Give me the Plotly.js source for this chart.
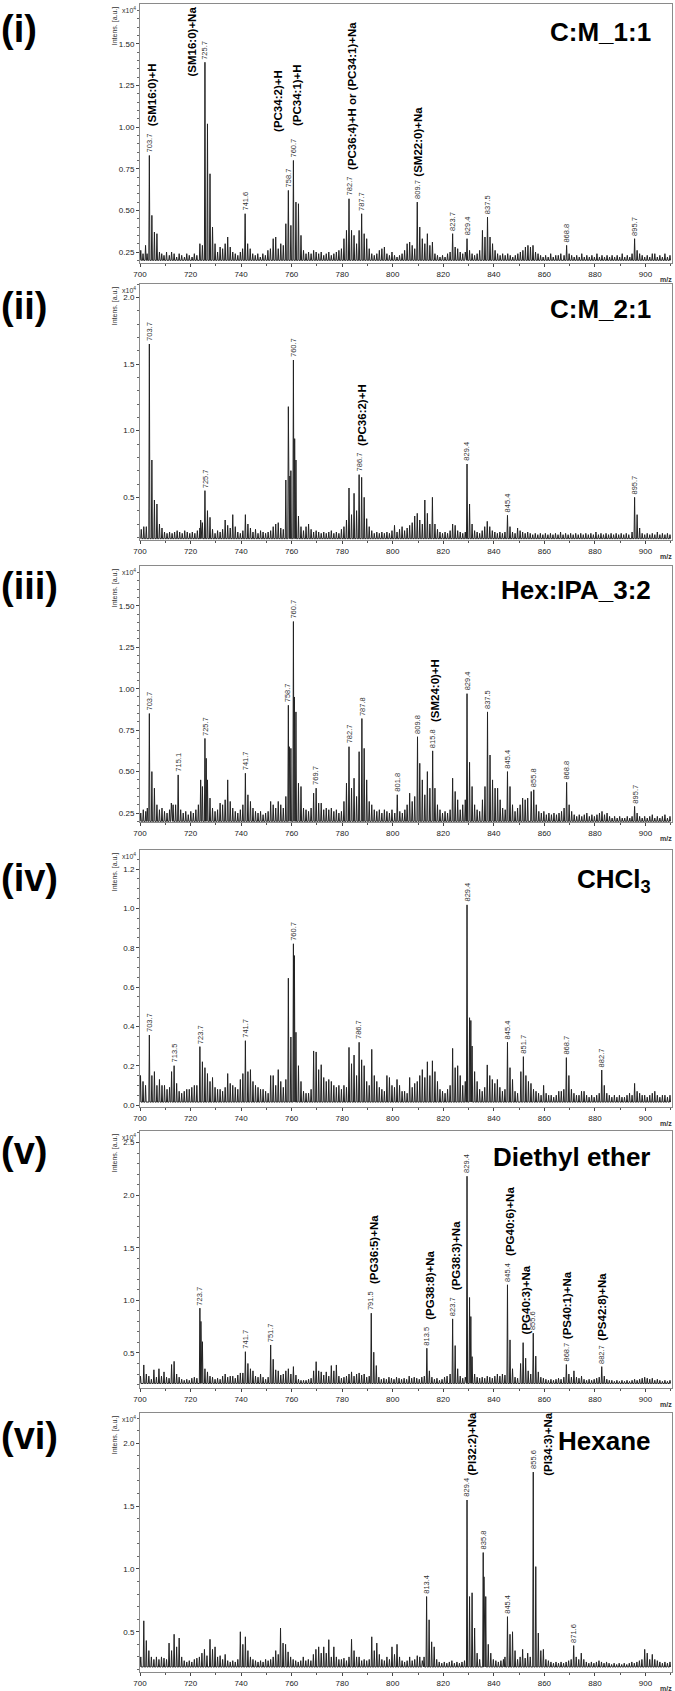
<!DOCTYPE html>
<html><head><meta charset="utf-8">
<script src="https://cdn.plot.ly/plotly-3.0.1.min.js"></script>
<style>html,body{margin:0;padding:0;background:#fff}</style>
</head><body>
<div id="chart" style="width:675px;height:1691px"></div>
<script>
// ---------- DATA (intensities in units of 10^4, m/z) ----------
const mzRange = [700, 910.5];

const base_i = 0.20;
const peaks_i = [[700.3,0.26],[701.2,0.24],[702.2,0.29],[702.8,0.24],[703.7,0.83],[704.7,0.47],[705.7,0.37],[706.7,0.36],[707.7,0.25],[708.6,0.24],[709.5,0.23],[710.5,0.25],[711.6,0.23],[712.5,0.25],[713.5,0.24],[714.5,0.22],[715.5,0.24],[716.5,0.23],[717.6,0.22],[718.5,0.24],[719.5,0.23],[720.6,0.22],[721.5,0.24],[722.5,0.23],[723.7,0.30],[724.7,0.29],[725.7,1.39],[726.7,1.02],[727.7,0.72],[728.7,0.40],[729.7,0.30],[730.7,0.25],[731.7,0.28],[732.7,0.27],[733.7,0.30],[734.7,0.34],[735.7,0.28],[736.7,0.25],[737.7,0.24],[738.7,0.23],[739.7,0.25],[740.6,0.27],[741.6,0.48],[742.6,0.30],[743.6,0.27],[744.6,0.24],[745.6,0.23],[746.6,0.24],[747.6,0.22],[748.6,0.24],[749.6,0.23],[750.6,0.26],[751.6,0.27],[752.7,0.33],[753.7,0.34],[754.7,0.27],[755.7,0.30],[756.7,0.29],[757.7,0.42],[758.7,0.62],[759.7,0.41],[760.7,0.80],[761.7,0.55],[762.7,0.54],[763.7,0.35],[764.7,0.26],[765.7,0.24],[766.7,0.25],[767.7,0.24],[768.7,0.26],[769.7,0.25],[770.7,0.24],[771.7,0.25],[772.7,0.23],[773.7,0.24],[774.7,0.25],[775.7,0.23],[776.7,0.24],[777.7,0.25],[778.7,0.26],[779.7,0.27],[780.7,0.33],[781.7,0.38],[782.7,0.57],[783.7,0.38],[784.7,0.35],[785.7,0.30],[786.7,0.38],[787.7,0.48],[788.7,0.36],[789.7,0.33],[790.7,0.27],[791.7,0.24],[792.7,0.23],[793.7,0.24],[794.7,0.26],[795.7,0.27],[796.7,0.28],[797.7,0.24],[798.7,0.23],[799.7,0.25],[800.7,0.23],[801.7,0.22],[802.7,0.23],[803.7,0.24],[804.7,0.26],[805.7,0.30],[806.7,0.31],[807.7,0.29],[808.7,0.27],[809.7,0.55],[810.7,0.40],[811.7,0.33],[812.7,0.30],[813.7,0.36],[814.7,0.29],[815.7,0.31],[816.7,0.24],[817.7,0.23],[818.7,0.22],[819.7,0.23],[820.7,0.22],[821.7,0.24],[822.7,0.25],[823.7,0.36],[824.7,0.28],[825.7,0.27],[826.7,0.25],[827.7,0.24],[828.7,0.25],[829.4,0.33],[830.4,0.26],[831.4,0.24],[832.4,0.23],[833.4,0.24],[834.4,0.26],[835.5,0.38],[836.5,0.34],[837.5,0.46],[838.5,0.34],[839.5,0.30],[840.5,0.26],[841.5,0.24],[842.5,0.23],[843.5,0.24],[844.5,0.23],[845.5,0.24],[846.5,0.23],[847.5,0.22],[848.5,0.23],[849.5,0.24],[850.5,0.25],[851.5,0.26],[852.5,0.28],[853.5,0.29],[854.5,0.28],[855.5,0.29],[856.5,0.25],[857.5,0.24],[858.5,0.23],[859.5,0.22],[860.5,0.23],[861.5,0.22],[862.5,0.24],[863.5,0.22],[864.5,0.23],[865.5,0.23],[866.5,0.24],[867.8,0.23],[868.8,0.29],[869.8,0.24],[870.8,0.23],[871.8,0.22],[872.8,0.23],[873.8,0.22],[874.8,0.24],[875.8,0.22],[876.8,0.23],[877.8,0.22],[878.8,0.23],[879.8,0.22],[880.8,0.24],[881.8,0.22],[882.8,0.23],[883.8,0.22],[884.8,0.23],[885.8,0.22],[886.8,0.23],[887.8,0.22],[888.8,0.23],[889.8,0.22],[890.8,0.24],[891.8,0.22],[892.8,0.23],[893.8,0.22],[894.7,0.24],[895.7,0.33],[896.7,0.26],[897.7,0.24],[898.7,0.23],[899.7,0.22],[900.7,0.23],[901.7,0.22],[902.7,0.24],[903.7,0.24],[904.7,0.22],[905.7,0.23],[906.7,0.22],[907.7,0.24],[908.7,0.22],[909.7,0.23]];
const labels_i = [703.7,725.7,741.6,758.7,760.7,782.7,787.7,809.7,823.7,829.4,837.5,868.8,895.7];
const lipids_i = [["(SM16:0)+H",703.7],["(SM16:0)+Na",725.7],["(PC34:2)+H",758.7],["(PC34:1)+H",760.7],["(PC36:4)+H or (PC34:1)+Na",782.7],["(SM22:0)+Na",809.7]];

const base_ii = 0.19;
const peaks_ii = [[700.5,0.26],[701.5,0.28],[702.5,0.28],[703.7,1.65],[704.7,0.78],[705.7,0.48],[706.7,0.45],[707.7,0.30],[708.7,0.27],[709.7,0.24],[710.7,0.23],[711.7,0.24],[712.7,0.23],[713.7,0.24],[714.7,0.25],[715.7,0.24],[716.7,0.23],[717.7,0.25],[718.7,0.24],[719.7,0.23],[720.7,0.24],[721.7,0.23],[722.7,0.25],[723.7,0.27],[724.0,0.33],[724.7,0.31],[725.7,0.55],[726.7,0.40],[727.7,0.35],[728.7,0.26],[729.7,0.23],[730.7,0.25],[731.7,0.24],[732.7,0.26],[733.7,0.33],[734.7,0.29],[735.7,0.27],[736.7,0.37],[737.7,0.28],[738.7,0.24],[739.7,0.23],[740.7,0.25],[741.7,0.37],[742.7,0.30],[743.7,0.27],[744.7,0.24],[745.7,0.26],[746.7,0.23],[747.7,0.25],[748.7,0.24],[749.7,0.23],[750.7,0.24],[751.7,0.25],[752.7,0.28],[753.7,0.30],[754.7,0.31],[755.7,0.27],[756.7,0.26],[757.7,0.63],[758.7,1.18],[759.3,0.66],[759.7,0.70],[760.7,1.53],[761.2,0.94],[761.7,0.78],[762.7,0.36],[763.7,0.28],[764.7,0.25],[765.7,0.28],[766.7,0.30],[767.7,0.26],[768.7,0.24],[769.7,0.25],[770.7,0.24],[771.7,0.23],[772.7,0.24],[773.7,0.23],[774.7,0.24],[775.7,0.25],[776.7,0.23],[777.7,0.24],[778.7,0.23],[779.7,0.26],[780.7,0.28],[781.7,0.33],[782.7,0.57],[783.7,0.37],[784.7,0.53],[785.7,0.40],[786.7,0.67],[787.7,0.65],[788.7,0.50],[789.7,0.34],[790.7,0.28],[791.7,0.25],[792.7,0.23],[793.7,0.24],[794.7,0.23],[795.7,0.24],[796.7,0.23],[797.7,0.24],[798.7,0.23],[799.7,0.25],[800.7,0.29],[801.7,0.24],[802.7,0.26],[803.7,0.28],[804.7,0.25],[805.7,0.27],[806.7,0.29],[807.7,0.31],[808.7,0.36],[809.7,0.38],[810.7,0.33],[811.7,0.30],[812.7,0.48],[813.7,0.38],[814.7,0.30],[815.7,0.50],[816.7,0.30],[817.7,0.26],[818.7,0.24],[819.7,0.23],[820.7,0.24],[821.7,0.23],[822.7,0.25],[823.7,0.30],[824.7,0.29],[825.7,0.25],[826.7,0.24],[827.7,0.23],[828.7,0.24],[829.4,0.75],[830.4,0.45],[831.4,0.30],[832.4,0.25],[833.4,0.24],[834.4,0.23],[835.4,0.25],[836.4,0.28],[837.4,0.32],[838.4,0.28],[839.4,0.25],[840.4,0.24],[841.4,0.23],[842.4,0.24],[843.4,0.23],[844.4,0.24],[845.4,0.365],[846.4,0.28],[847.4,0.24],[848.4,0.23],[849.4,0.27],[850.4,0.25],[851.4,0.24],[852.4,0.23],[853.4,0.24],[854.4,0.23],[855.4,0.22],[856.4,0.23],[857.4,0.22],[858.4,0.23],[859.4,0.22],[860.4,0.23],[861.4,0.22],[862.4,0.23],[863.4,0.22],[864.4,0.23],[865.4,0.22],[866.4,0.24],[867.4,0.22],[868.4,0.23],[869.4,0.22],[870.4,0.23],[871.4,0.22],[872.4,0.23],[873.4,0.22],[874.4,0.23],[875.4,0.22],[876.4,0.23],[877.4,0.22],[878.4,0.23],[879.4,0.22],[880.4,0.24],[881.4,0.22],[882.4,0.23],[883.4,0.22],[884.4,0.23],[885.4,0.22],[886.4,0.23],[887.4,0.22],[888.4,0.23],[889.4,0.22],[890.4,0.23],[891.4,0.22],[892.4,0.23],[893.4,0.22],[894.7,0.24],[895.7,0.50],[896.7,0.37],[897.7,0.27],[898.7,0.23],[899.7,0.22],[900.7,0.23],[901.7,0.22],[902.7,0.23],[903.7,0.22],[904.7,0.24],[905.7,0.22],[906.7,0.23],[907.7,0.22],[908.7,0.23],[909.7,0.22]];
const labels_ii = [703.7,725.7,760.7,786.7,829.4,845.4,895.7];
const lipids_ii = [["(PC36:2)+H",786.7]];

const base_iii = 0.20;
const peaks_iii = [[700.3,0.25],[701.3,0.27],[702.3,0.26],[702.9,0.28],[703.7,0.85],[704.7,0.50],[705.7,0.40],[706.7,0.30],[707.7,0.27],[708.7,0.28],[709.7,0.26],[710.7,0.25],[711.7,0.27],[712.4,0.31],[713.1,0.30],[714.1,0.30],[715.1,0.48],[716.1,0.27],[717.1,0.25],[718.1,0.26],[719.1,0.24],[720.1,0.26],[721.1,0.25],[722.1,0.27],[723.1,0.30],[724.0,0.45],[724.7,0.41],[725.7,0.70],[726.2,0.58],[726.7,0.45],[727.7,0.34],[728.7,0.28],[729.7,0.26],[730.7,0.27],[731.7,0.31],[732.7,0.30],[733.7,0.33],[734.7,0.45],[735.7,0.32],[736.7,0.28],[737.7,0.26],[738.7,0.25],[739.7,0.27],[740.7,0.30],[741.7,0.49],[742.7,0.36],[743.7,0.32],[744.7,0.28],[745.7,0.26],[746.7,0.25],[747.7,0.26],[748.7,0.24],[749.7,0.25],[750.7,0.26],[751.7,0.32],[752.7,0.30],[753.7,0.28],[754.7,0.32],[755.7,0.30],[756.7,0.28],[757.7,0.35],[758.7,0.90],[759.1,0.65],[759.7,0.64],[760.7,1.405],[761.1,0.95],[761.7,0.86],[762.7,0.43],[763.7,0.41],[764.7,0.28],[765.7,0.27],[766.7,0.26],[767.7,0.28],[768.7,0.37],[769.7,0.40],[770.7,0.31],[771.7,0.31],[772.7,0.27],[773.7,0.28],[774.7,0.27],[775.7,0.28],[776.7,0.26],[777.7,0.27],[778.7,0.25],[779.7,0.26],[780.7,0.32],[781.7,0.43],[782.7,0.65],[783.7,0.40],[784.7,0.46],[785.7,0.35],[786.7,0.62],[787.8,0.82],[788.7,0.64],[789.7,0.45],[790.7,0.32],[791.7,0.30],[792.7,0.27],[793.7,0.26],[794.7,0.27],[795.7,0.25],[796.7,0.27],[797.7,0.26],[798.7,0.25],[799.7,0.27],[800.8,0.25],[801.8,0.36],[802.8,0.26],[803.8,0.25],[804.8,0.27],[805.7,0.30],[806.7,0.37],[807.7,0.32],[808.7,0.35],[809.8,0.71],[810.7,0.55],[811.7,0.45],[812.7,0.36],[813.7,0.50],[814.7,0.40],[815.8,0.625],[816.7,0.40],[817.7,0.30],[818.7,0.27],[819.7,0.25],[820.7,0.26],[821.7,0.25],[822.7,0.27],[823.7,0.46],[824.7,0.38],[825.7,0.33],[826.7,0.27],[827.7,0.30],[828.7,0.33],[829.4,0.97],[830.4,0.556],[831.4,0.41],[832.4,0.30],[833.4,0.27],[834.4,0.26],[835.5,0.33],[836.5,0.41],[837.5,0.86],[838.5,0.60],[839.5,0.45],[840.5,0.40],[841.5,0.40],[842.5,0.33],[843.5,0.28],[844.5,0.27],[845.4,0.50],[846.4,0.41],[847.4,0.30],[848.4,0.26],[849.4,0.28],[850.4,0.30],[851.4,0.34],[852.4,0.33],[853.4,0.34],[854.8,0.38],[855.8,0.39],[856.8,0.30],[857.8,0.26],[858.8,0.25],[859.8,0.26],[860.8,0.24],[861.8,0.25],[862.8,0.24],[863.8,0.25],[864.8,0.24],[865.8,0.25],[866.8,0.26],[867.8,0.28],[868.8,0.435],[869.8,0.30],[870.8,0.26],[871.8,0.24],[872.8,0.23],[873.8,0.24],[874.8,0.23],[875.8,0.24],[876.8,0.25],[877.8,0.23],[878.8,0.24],[879.8,0.23],[880.8,0.24],[881.8,0.25],[882.8,0.26],[883.8,0.24],[884.8,0.25],[885.8,0.23],[886.8,0.22],[887.8,0.23],[888.8,0.22],[889.8,0.23],[890.8,0.22],[891.8,0.22],[892.8,0.23],[893.8,0.22],[894.7,0.23],[895.7,0.29],[896.7,0.25],[897.7,0.23],[898.7,0.22],[899.7,0.23],[900.7,0.22],[901.7,0.23],[902.7,0.24],[903.7,0.22],[904.7,0.23],[905.7,0.22],[906.7,0.23],[907.7,0.24],[908.7,0.22],[909.7,0.23]];
const labels_iii = [703.7,715.1,725.7,741.7,758.7,760.7,769.7,782.7,787.8,801.8,809.8,815.8,829.4,837.5,845.4,855.8,868.8,895.7];
const lipids_iii = [["(SM24:0)+H",815.8]];

const base_iv = 0.015;
const peaks_iv = [[700.2,0.15],[701.2,0.12],[702.2,0.10],[703.7,0.356],[704.7,0.15],[705.7,0.17],[706.7,0.10],[707.7,0.13],[708.7,0.10],[709.7,0.10],[710.7,0.08],[711.7,0.09],[712.5,0.17],[713.5,0.20],[714.5,0.11],[715.5,0.07],[716.5,0.06],[717.5,0.07],[718.5,0.08],[719.5,0.08],[720.5,0.09],[721.5,0.10],[722.5,0.10],[723.7,0.297],[724.7,0.22],[725.7,0.19],[726.7,0.16],[727.7,0.12],[728.7,0.14],[729.7,0.09],[730.7,0.08],[731.7,0.08],[732.7,0.07],[733.7,0.09],[734.7,0.16],[735.7,0.11],[736.7,0.10],[737.7,0.09],[738.7,0.08],[739.7,0.13],[740.7,0.16],[741.7,0.327],[742.7,0.17],[743.7,0.18],[744.7,0.12],[745.7,0.10],[746.7,0.09],[747.7,0.08],[748.7,0.08],[749.7,0.07],[750.7,0.06],[751.7,0.15],[752.7,0.15],[753.7,0.10],[754.7,0.18],[755.7,0.12],[756.7,0.09],[757.7,0.13],[758.7,0.645],[759.7,0.346],[760.7,0.82],[761.1,0.76],[761.7,0.37],[762.7,0.20],[763.7,0.12],[764.7,0.07],[765.7,0.06],[766.7,0.06],[767.7,0.08],[768.7,0.275],[769.7,0.27],[770.7,0.18],[771.7,0.205],[772.7,0.14],[773.7,0.12],[774.7,0.13],[775.7,0.12],[776.7,0.10],[777.7,0.09],[778.7,0.10],[779.7,0.08],[780.7,0.10],[781.7,0.09],[782.7,0.293],[783.7,0.21],[784.7,0.254],[785.7,0.15],[786.7,0.319],[787.7,0.23],[788.7,0.20],[789.7,0.12],[790.7,0.10],[791.7,0.283],[792.7,0.15],[793.7,0.12],[794.7,0.09],[795.7,0.08],[796.7,0.07],[797.7,0.15],[798.7,0.14],[799.7,0.10],[800.7,0.09],[801.7,0.13],[802.7,0.10],[803.7,0.07],[804.7,0.07],[805.7,0.06],[806.7,0.14],[807.7,0.09],[808.7,0.11],[809.7,0.12],[810.7,0.15],[811.7,0.18],[812.7,0.14],[813.7,0.22],[814.7,0.15],[815.7,0.225],[816.7,0.17],[817.7,0.12],[818.7,0.08],[819.7,0.07],[820.7,0.06],[821.7,0.08],[822.7,0.10],[823.7,0.288],[824.7,0.19],[825.7,0.20],[826.7,0.15],[827.7,0.10],[828.7,0.12],[829.4,1.018],[830.4,0.444],[830.9,0.43],[831.4,0.30],[832.4,0.17],[833.4,0.12],[834.4,0.08],[835.4,0.07],[836.4,0.09],[837.4,0.204],[838.4,0.15],[839.4,0.13],[840.4,0.11],[841.4,0.13],[842.4,0.09],[843.4,0.07],[844.4,0.08],[845.4,0.319],[846.4,0.19],[847.4,0.13],[848.4,0.07],[849.4,0.06],[850.7,0.17],[851.7,0.246],[852.7,0.15],[853.7,0.12],[854.7,0.11],[855.7,0.08],[856.7,0.07],[857.7,0.06],[858.7,0.05],[859.7,0.10],[860.7,0.06],[861.7,0.05],[862.7,0.05],[863.7,0.04],[864.7,0.05],[865.7,0.07],[866.7,0.07],[867.7,0.08],[868.7,0.241],[869.7,0.15],[870.7,0.08],[871.7,0.06],[872.7,0.05],[873.7,0.05],[874.7,0.07],[875.7,0.07],[876.7,0.05],[877.7,0.04],[878.7,0.05],[879.7,0.04],[880.7,0.05],[881.7,0.06],[882.7,0.178],[883.7,0.10],[884.7,0.06],[885.7,0.05],[886.7,0.04],[887.7,0.05],[888.7,0.04],[889.7,0.05],[890.7,0.04],[891.7,0.04],[892.7,0.05],[893.7,0.06],[894.7,0.05],[895.7,0.11],[896.7,0.07],[897.7,0.06],[898.7,0.05],[899.7,0.05],[900.7,0.04],[901.7,0.05],[902.7,0.06],[903.7,0.07],[904.7,0.05],[905.7,0.04],[906.7,0.05],[907.7,0.05],[908.7,0.04],[909.7,0.05]];
const labels_iv = [703.7,713.5,723.7,741.7,760.7,786.7,829.4,845.4,851.7,868.7,882.7];
const lipids_iv = [];

const base_v = 0.21;
const peaks_v = [[700.2,0.28],[701.5,0.386],[702.5,0.30],[703.5,0.28],[704.5,0.25],[705.5,0.34],[706.5,0.27],[707.5,0.35],[708.5,0.28],[709.5,0.32],[710.5,0.27],[711.5,0.26],[712.5,0.39],[713.5,0.42],[714.5,0.30],[715.5,0.27],[716.5,0.25],[717.5,0.24],[718.5,0.25],[719.5,0.24],[720.5,0.26],[721.5,0.27],[722.5,0.26],[723.7,0.926],[724.1,0.80],[724.7,0.607],[725.7,0.35],[726.7,0.32],[727.7,0.28],[728.7,0.27],[729.7,0.25],[730.7,0.26],[731.7,0.25],[732.7,0.28],[733.7,0.30],[734.7,0.27],[735.7,0.28],[736.7,0.28],[737.7,0.26],[738.7,0.29],[739.7,0.31],[740.7,0.31],[741.7,0.512],[742.7,0.40],[743.7,0.35],[744.7,0.33],[745.7,0.28],[746.7,0.27],[747.7,0.30],[748.7,0.27],[749.7,0.25],[750.7,0.27],[751.7,0.576],[752.7,0.44],[753.7,0.34],[754.7,0.33],[755.7,0.29],[756.7,0.30],[757.7,0.33],[758.7,0.35],[759.7,0.30],[760.7,0.37],[761.7,0.29],[762.7,0.25],[763.7,0.24],[764.7,0.24],[765.7,0.24],[766.7,0.25],[767.7,0.26],[768.7,0.33],[769.7,0.417],[770.7,0.33],[771.7,0.32],[772.7,0.29],[773.7,0.32],[774.7,0.28],[775.7,0.38],[776.7,0.33],[777.7,0.386],[778.7,0.28],[779.7,0.26],[780.7,0.27],[781.7,0.28],[782.7,0.30],[783.7,0.32],[784.7,0.28],[785.7,0.30],[786.7,0.31],[787.7,0.29],[788.7,0.30],[789.7,0.27],[790.7,0.28],[791.5,0.878],[792.5,0.507],[793.5,0.38],[794.5,0.27],[795.5,0.25],[796.5,0.26],[797.5,0.25],[798.5,0.27],[799.5,0.26],[800.5,0.25],[801.5,0.27],[802.5,0.26],[803.5,0.25],[804.5,0.26],[805.5,0.25],[806.5,0.28],[807.5,0.26],[808.5,0.27],[809.5,0.26],[810.5,0.25],[811.5,0.27],[812.5,0.28],[813.5,0.545],[814.5,0.33],[815.5,0.27],[816.5,0.25],[817.5,0.26],[818.5,0.24],[819.5,0.25],[820.5,0.27],[821.5,0.28],[822.7,0.30],[823.7,0.824],[824.7,0.57],[825.7,0.35],[826.7,0.28],[827.7,0.26],[828.7,0.27],[829.4,2.18],[830.4,1.027],[830.9,0.846],[831.4,0.465],[832.4,0.30],[833.4,0.27],[834.4,0.26],[835.4,0.27],[836.4,0.26],[837.4,0.28],[838.4,0.27],[839.4,0.26],[840.4,0.28],[841.4,0.30],[842.4,0.28],[843.4,0.30],[844.4,0.29],[845.4,1.148],[846.4,0.624],[847.4,0.35],[848.4,0.27],[849.4,0.26],[850.6,0.40],[851.6,0.598],[852.6,0.45],[853.6,0.33],[854.6,0.30],[855.6,0.688],[856.6,0.47],[857.6,0.32],[858.6,0.27],[859.6,0.26],[860.6,0.25],[861.6,0.24],[862.6,0.25],[863.6,0.24],[864.6,0.25],[865.6,0.26],[866.6,0.25],[867.7,0.27],[868.7,0.39],[869.7,0.30],[870.7,0.27],[871.7,0.33],[872.7,0.27],[873.7,0.26],[874.7,0.28],[875.7,0.25],[876.7,0.24],[877.7,0.25],[878.7,0.24],[879.7,0.25],[880.7,0.26],[881.7,0.27],[882.7,0.37],[883.7,0.28],[884.7,0.25],[885.7,0.24],[886.7,0.24],[887.7,0.23],[888.7,0.24],[889.7,0.23],[890.7,0.24],[891.7,0.23],[892.7,0.24],[893.7,0.23],[894.7,0.24],[895.7,0.25],[896.7,0.24],[897.7,0.25],[898.7,0.26],[899.7,0.27],[900.7,0.26],[901.7,0.25],[902.7,0.26],[903.7,0.24],[904.7,0.25],[905.7,0.24],[906.7,0.23],[907.7,0.24],[908.7,0.23],[909.7,0.24]];
const labels_v = [723.7,741.7,751.7,791.5,813.5,823.7,829.4,845.4,855.6,868.7,882.7];
const lipids_v = [["(PG36:5)+Na",791.5],["(PG38:8)+Na",813.5],["(PG38:3)+Na",823.7],["(PG40:6)+Na",845.4],["(PG40:3)+Na",851.6],["(PS40:1)+Na",868.7],["(PS42:8)+Na",882.7]];

const base_vi = 0.22;
const peaks_vi = [[700.3,0.30],[701.5,0.587],[702.5,0.43],[703.5,0.35],[704.5,0.30],[705.5,0.28],[706.5,0.30],[707.5,0.28],[708.5,0.30],[709.5,0.29],[710.5,0.28],[711.5,0.41],[712.5,0.35],[713.5,0.48],[714.5,0.38],[715.5,0.45],[716.5,0.30],[717.5,0.27],[718.5,0.26],[719.5,0.27],[720.5,0.26],[721.5,0.28],[722.5,0.29],[723.5,0.30],[724.5,0.33],[725.5,0.36],[726.5,0.31],[727.7,0.44],[728.7,0.36],[729.7,0.38],[730.7,0.30],[731.7,0.31],[732.7,0.28],[733.7,0.32],[734.7,0.27],[735.7,0.26],[736.7,0.27],[737.7,0.26],[738.7,0.28],[739.7,0.50],[740.7,0.40],[741.7,0.46],[742.7,0.35],[743.7,0.30],[744.7,0.28],[745.7,0.27],[746.7,0.26],[747.7,0.27],[748.7,0.26],[749.7,0.28],[750.7,0.27],[751.7,0.28],[752.7,0.30],[753.7,0.35],[754.7,0.32],[755.6,0.53],[756.6,0.41],[757.6,0.40],[758.6,0.34],[759.6,0.30],[760.6,0.28],[761.6,0.27],[762.6,0.26],[763.6,0.27],[764.6,0.30],[765.6,0.27],[766.6,0.28],[767.6,0.27],[768.6,0.32],[769.6,0.36],[770.7,0.38],[771.7,0.33],[772.7,0.38],[773.7,0.33],[774.7,0.437],[775.7,0.30],[776.7,0.38],[777.7,0.30],[778.7,0.28],[779.7,0.28],[780.7,0.29],[781.7,0.27],[782.7,0.30],[783.7,0.44],[784.7,0.35],[785.7,0.30],[786.7,0.30],[787.7,0.27],[788.7,0.28],[789.7,0.27],[790.7,0.28],[791.7,0.46],[792.7,0.35],[793.7,0.41],[794.7,0.32],[795.7,0.28],[796.7,0.27],[797.7,0.30],[798.7,0.28],[799.7,0.38],[800.7,0.32],[801.7,0.40],[802.7,0.30],[803.7,0.27],[804.7,0.26],[805.7,0.27],[806.7,0.30],[807.7,0.27],[808.7,0.28],[809.7,0.31],[810.7,0.30],[811.7,0.27],[812.4,0.30],[813.4,0.78],[814.4,0.595],[815.4,0.42],[816.4,0.38],[817.4,0.28],[818.4,0.26],[819.4,0.25],[820.4,0.26],[821.4,0.25],[822.4,0.26],[823.4,0.27],[824.4,0.25],[825.4,0.26],[826.4,0.25],[827.4,0.26],[828.4,0.27],[829.4,1.548],[830.4,0.78],[831.4,0.81],[832.4,0.53],[833.4,0.33],[834.4,0.28],[835.8,1.13],[836.1,0.937],[836.8,0.78],[837.8,0.40],[838.8,0.33],[839.8,0.28],[840.8,0.27],[841.8,0.26],[842.8,0.27],[843.8,0.28],[844.4,0.30],[845.4,0.62],[846.4,0.48],[847.4,0.50],[848.4,0.35],[849.4,0.28],[850.4,0.30],[851.4,0.36],[852.4,0.29],[853.4,0.33],[854.4,0.30],[855.6,1.77],[856.6,1.018],[857.6,0.49],[858.6,0.35],[859.6,0.36],[860.6,0.28],[861.6,0.27],[862.6,0.26],[863.6,0.25],[864.6,0.26],[865.6,0.25],[866.6,0.26],[867.6,0.25],[868.6,0.26],[869.6,0.27],[870.6,0.28],[871.6,0.39],[872.6,0.30],[873.6,0.28],[874.6,0.33],[875.6,0.28],[876.6,0.26],[877.6,0.25],[878.6,0.26],[879.6,0.25],[880.6,0.26],[881.6,0.27],[882.6,0.26],[883.6,0.25],[884.6,0.26],[885.6,0.25],[886.6,0.24],[887.6,0.25],[888.6,0.24],[889.6,0.25],[890.6,0.24],[891.6,0.25],[892.6,0.24],[893.6,0.25],[894.6,0.26],[895.6,0.25],[896.6,0.26],[897.6,0.27],[898.6,0.28],[899.7,0.36],[900.7,0.33],[901.7,0.28],[902.7,0.32],[903.7,0.28],[904.7,0.27],[905.7,0.26],[906.7,0.25],[907.7,0.26],[908.7,0.25],[909.7,0.26]];
const labels_vi = [813.4,829.4,835.8,845.4,855.6,871.6];
const lipids_vi = [["(PI32:2)+Na",829.4],["(PI34:3)+Na",855.6]];

const romans = ["(i)","(ii)","(iii)","(iv)","(v)","(vi)"];
const solvents = ["C:M_1:1","C:M_2:1","Hex:IPA_3:2","CHCl<sub>3</sub>","Diethyl ether","Hexane"];

// ---------- LAYOUT / STYLE ----------
const W = 675, H = 1691;
const FONT = "Liberation Sans, Arial, Helvetica, sans-serif";
const PEAK_FS = 7.5, LIPID_FS = 11.5;
const frames = [
  {top:4,   bottom:263,  yr:[0.184,1.74], t0:0.25, dt:0.25, fmt:'.2f', mn:0.05, romanY:29,   nameY:32},
  {top:284, bottom:540,  yr:[0.18,2.10],  t0:0.5,  dt:0.5,  fmt:'.1f', mn:0.1,  romanY:306,  nameY:309},
  {top:566, bottom:822,  yr:[0.196,1.74], t0:0.25, dt:0.25, fmt:'.2f', mn:0.05, romanY:586,  nameY:590},
  {top:850, bottom:1107, yr:[-0.01,1.297],t0:0,    dt:0.2,  fmt:'.1f', mn:0.05, romanY:878,  nameY:880},
  {top:1131,bottom:1388, yr:[0.167,2.61], t0:0.5,  dt:0.5,  fmt:'.1f', mn:0.1,  romanY:1151, nameY:1157},
  {top:1413,bottom:1672, yr:[0.18,2.24],  t0:0.5,  dt:0.5,  fmt:'.1f', mn:0.1,  romanY:1436, nameY:1441}
];
// lipid label placement: gap (px) between peak top and label's lower end; dx horizontal shift
const nudge = {
  "0|(SM16:0)+Na": {dx:-13, dy:-14},
  "0|(PC34:2)+H":  {dx:-11, dy:59},
  "0|(PC34:1)+H":  {dx:3, dy:35},
  "0|(SM22:0)+Na": {dx:1, dy:26},
  "4|(PG40:3)+Na": {dx:3, dy:8},
  "4|(PS40:1)+Na": {dx:0, dy:26},
  "4|(PS42:8)+Na": {dx:0, dy:26},
  "5|(PI34:3)+Na": {dx:14, dy:-3},
  "5|(PI32:2)+Na": {dx:4, dy:25}
};
const xL = 140, xR = 672;

// text width measurement (so rotated labels can be centred precisely)
const ctx = document.createElement('canvas').getContext('2d');
function textW(txt, size, bold){ ctx.font = (bold?'bold ':'') + size + 'px ' + FONT; return ctx.measureText(txt).width; }

const data = [[peaks_i,base_i,labels_i,lipids_i],[peaks_ii,base_ii,labels_ii,lipids_ii],[peaks_iii,base_iii,labels_iii,lipids_iii],
              [peaks_iv,base_iv,labels_iv,lipids_iv],[peaks_v,base_v,labels_v,lipids_v],[peaks_vi,base_vi,labels_vi,lipids_vi]];

const traces = [], annotations = [];
const layout = {width:W, height:H, margin:{l:0,r:0,t:0,b:0}, paper_bgcolor:'#fff', plot_bgcolor:'#fff',
  showlegend:false, font:{family:FONT, color:'#222'}, annotations};

function py(p){ return 1 - p/H; }
function findPeak(peaks, m){ let best=peaks[0]; for(const p of peaks){ if(Math.abs(p[0]-m)<Math.abs(best[0]-m)) best=p; } return best; }

data.forEach(([peaks, base, labels, lipids], i) => {
  const f = frames[i];
  const sfx = i===0 ? '' : String(i+1);
  const xs=[], ys=[];
  peaks.forEach(([m,v]) => { xs.push(m-0.22, m, m+0.22); ys.push(base, v, base); });
  traces.push({x:xs, y:ys, type:'scatter', mode:'lines', xaxis:'x'+sfx, yaxis:'y'+sfx,
    line:{color:'#222', width:1}, hoverinfo:'skip'});
  layout['xaxis'+sfx] = {domain:[xL/W, xR/W], range:mzRange, anchor:'y'+sfx, tick0:700, dtick:20,
    ticks:'outside', ticklen:3, tickcolor:'#444', tickfont:{size:8, color:'#222', family:FONT},
    showline:true, linecolor:'#8a8a8a', linewidth:1, mirror:true, showgrid:false, zeroline:false,
    minor:{dtick:10, ticklen:2, tickcolor:'#555', ticks:'outside', showgrid:false}};
  layout['yaxis'+sfx] = {domain:[py(f.bottom), py(f.top)], range:f.yr, anchor:'x'+sfx, tick0:f.t0, dtick:f.dt,
    tickformat:f.fmt, ticks:'outside', ticklen:3, tickcolor:'#444', tickfont:{size:8, color:'#222', family:FONT},
    showline:true, linecolor:'#8a8a8a', linewidth:1, mirror:true, showgrid:false, zeroline:false,
    minor:{tick0:0, dtick:f.mn, ticklen:2, tickcolor:'#666', ticks:'outside', showgrid:false}};

  const xr='x'+sfx, yr='y'+sfx;
  labels.forEach(m => {
    const p = findPeak(peaks, m);
    const t = m.toFixed(1);
    annotations.push({x:p[0], y:p[1], xref:xr, yref:yr, text:t, showarrow:false, textangle:-90,
      xanchor:'center', yanchor:'middle', yshift:3 + textW(t, PEAK_FS, false)/2, borderpad:0,
      font:{size:PEAK_FS, color:'#333', family:FONT}});
  });
  lipids.forEach(([txt, m]) => {
    const p = findPeak(peaks, m);
    const hasLab = labels.some(l => Math.abs(l-m)<0.05);
    const n = nudge[i+'|'+txt] || {dx:3, dy: hasLab ? 29 : 4};
    annotations.push({x:p[0], y:p[1], xref:xr, yref:yr, text:'<b>'+txt+'</b>', showarrow:false, textangle:-90,
      xanchor:'center', yanchor:'middle', xshift:n.dx, yshift:n.dy + textW(txt, LIPID_FS, true)/2, borderpad:0,
      font:{size:LIPID_FS, color:'#000', family:FONT}});
  });
  // axis decorations
  annotations.push({xref:'paper', yref:'paper', x:115/W, y:py(f.top+3+textW('Intens. [a.u.]',7,false)/2), xanchor:'center', yanchor:'middle',
    text:'Intens. [a.u.]', textangle:-90, showarrow:false, borderpad:0, font:{size:7, color:'#333', family:FONT}});
  annotations.push({xref:'paper', yref:'paper', x:121/W, y:py(f.top+6), xanchor:'left', yanchor:'middle',
    text:'x10<sup>4</sup>', showarrow:false, borderpad:0, font:{size:7, color:'#333', family:FONT}});
  annotations.push({xref:'paper', yref:'paper', x:666/W, y:py(f.bottom+16), xanchor:'center', yanchor:'middle',
    text:'<b>m/z</b>', showarrow:false, borderpad:0, font:{size:7, color:'#333', family:FONT}});
  annotations.push({xref:'paper', yref:'paper', x:0, y:py(f.romanY), xanchor:'left', yanchor:'middle',
    text:'<b>'+romans[i]+'</b>', showarrow:false, borderpad:0, font:{size:38, color:'#000', family:FONT}});
  annotations.push({xref:'paper', yref:'paper', x:652/W, y:py(f.nameY), xanchor:'right', yanchor:'middle',
    text:'<b>'+solvents[i]+'</b>', showarrow:false, borderpad:0, font:{size:26, color:'#000', family:FONT}});
});

Plotly.newPlot('chart', traces, layout, {staticPlot:true, displayModeBar:false});
</script>
</body></html>
